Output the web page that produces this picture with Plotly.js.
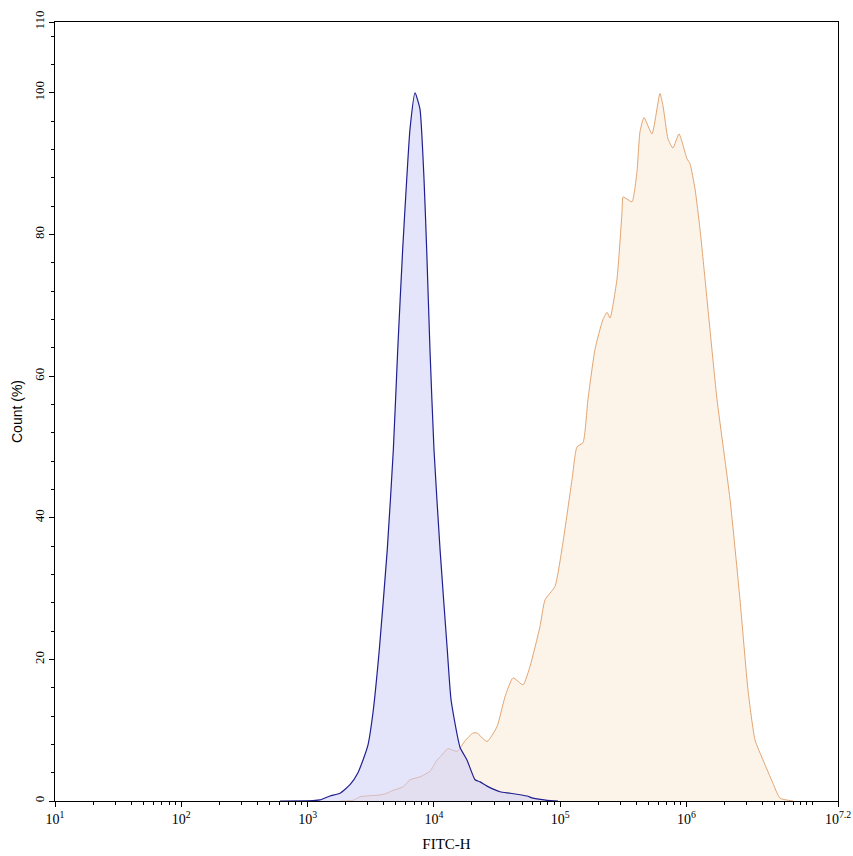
<!DOCTYPE html>
<html>
<head>
<meta charset="utf-8">
<script src="https://cdn.plot.ly/plotly-3.0.1.min.js"></script>
<style>html,body{margin:0;padding:0;background:#fff;}#chart{width:853px;height:856px;}</style>
</head>
<body>
<div id="chart"></div>
<script>
// FITC-H positions given as log10 exponents, counts in %
const blueLogX = [2.782, 3.043, 3.098, 3.178, 3.257, 3.336, 3.399, 3.439, 3.478, 3.518, 3.568, 3.631, 3.679, 3.714, 3.753, 3.785, 3.811, 3.851, 3.890, 3.922, 3.943, 3.969, 4.001, 4.049, 4.106, 4.136, 4.207, 4.262, 4.326, 4.365, 4.421, 4.524, 4.603, 4.737, 4.785, 4.896, 4.983];
const blueCount = [0, 0.05, 0.15, 0.7, 1.1, 2.3, 4.0, 5.8, 7.9, 12.5, 21.4, 35.5, 49.6, 63.8, 77.9, 87.8, 94.9, 100, 97.7, 87.8, 77.9, 63.8, 49.6, 35.5, 21.4, 14.3, 7.6, 5.8, 3.0, 2.7, 2.1, 1.3, 1.1, 0.7, 0.4, 0.1, 0];

const orangeLogX = [3.257, 3.360, 3.415, 3.494, 3.573, 3.629, 3.676, 3.756, 3.811, 3.890, 3.969, 4.025, 4.049, 4.112, 4.183, 4.247, 4.310, 4.341, 4.421, 4.500, 4.563, 4.627, 4.706, 4.761, 4.840, 4.880, 4.959, 5.022, 5.094, 5.133, 5.181, 5.220, 5.276, 5.339, 5.371, 5.395, 5.450, 5.490, 5.498, 5.529, 5.569, 5.608, 5.632, 5.664, 5.727, 5.790, 5.814, 5.854, 5.893, 5.941, 6.004, 6.028, 6.068, 6.107, 6.147, 6.186, 6.242, 6.345, 6.424, 6.487, 6.543, 6.606, 6.685, 6.741, 6.844];
const orangeCount = [0, 0.1, 0.6, 0.75, 0.85, 1.1, 1.5, 2.0, 3.0, 3.4, 4.2, 5.8, 6.2, 7.4, 7.0, 8.5, 9.6, 9.6, 8.4, 10.5, 14.7, 17.4, 16.4, 19.0, 24.6, 28.4, 30.3, 36.5, 45.4, 50.0, 50.6, 56.7, 63.8, 68.0, 69.0, 68.2, 73.7, 83.2, 85.3, 85.0, 84.6, 88.8, 94.5, 96.5, 94.2, 99.9, 98.2, 93.5, 92.2, 94.2, 90.7, 90.0, 86.4, 80.8, 73.7, 66.6, 56.7, 42.6, 28.4, 15.7, 8.6, 5.8, 2.5, 0.4, 0];

const xTickExp = [1, 2, 3, 4, 5, 6, 7.2];
const xTickText = ['10<sup>1</sup>', '10<sup>2</sup>', '10<sup>3</sup>', '10<sup>4</sup>', '10<sup>5</sup>', '10<sup>6</sup>', '10<sup>7.2</sup>'];
const yTickVals = [0, 20, 40, 60, 80, 100, 110];

const toLin = a => a.map(v => Math.pow(10, v));
const xMinor = [];
for (let d = 1; d <= 6; d++) for (let k = 2; k <= 9; k++) xMinor.push(k * Math.pow(10, d));
xMinor.push(1e7);

const traces = [
  {x: toLin(orangeLogX), y: orangeCount, type: 'scatter', mode: 'lines', fill: 'tozeroy',
   fillcolor: 'rgba(253,241,228,0.8)', line: {color: '#e2a572', width: 1, shape: 'spline', smoothing: 0.5}, hoverinfo: 'skip'},
  {x: toLin(blueLogX), y: blueCount, type: 'scatter', mode: 'lines', fill: 'tozeroy',
   fillcolor: 'rgba(205,205,245,0.55)', line: {color: '#1f1f8f', width: 1.2, shape: 'spline', smoothing: 0.5}, hoverinfo: 'skip'}
];

const serif = 'Liberation Serif, Times New Roman, serif';
const layout = {
  width: 853, height: 856,
  margin: {l: 55, r: 15, t: 22, b: 55},
  paper_bgcolor: '#fff', plot_bgcolor: '#fff',
  showlegend: false,
  xaxis: {
    type: 'log', range: [1, 7.2], showgrid: false, zeroline: false,
    showline: true, linecolor: '#000', linewidth: 1, mirror: true,
    tickmode: 'array', tickvals: toLin(xTickExp), ticktext: xTickText,
    ticks: 'outside', ticklen: 5, tickcolor: '#000',
    minor: {tickmode: 'array', tickvals: xMinor, ticks: 'outside', ticklen: 3, tickcolor: '#000', showgrid: false},
    tickfont: {family: serif, size: 14, color: '#000'},
    title: {text: 'FITC-H', font: {family: serif, size: 15, color: '#000'}, standoff: 12}
  },
  yaxis: {
    range: [0, 110], showgrid: false, zeroline: false,
    showline: true, linecolor: '#000', linewidth: 1, mirror: true,
    tickmode: 'array', tickvals: yTickVals, tickangle: -90,
    ticks: 'outside', ticklen: 5, tickcolor: '#000',
    minor: {tickmode: 'linear', tick0: 0, dtick: 4, ticks: 'outside', ticklen: 3, tickcolor: '#000', showgrid: false},
    tickfont: {family: serif, size: 13, color: '#000'},
    title: {text: 'Count (%)', font: {family: 'Liberation Sans, Arial, sans-serif', size: 14, color: '#000'}, standoff: 5}
  }
};
Plotly.newPlot('chart', traces, layout, {displayModeBar: false, staticPlot: true});
</script>
</body>
</html>
